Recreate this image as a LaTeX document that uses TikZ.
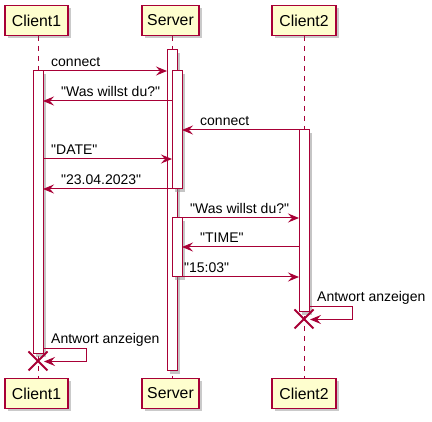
\documentclass[tikz,border=0pt]{standalone}
\usepackage{fontspec}
\setmainfont[Ligatures=TeXOff]{Liberation Sans}
\usetikzlibrary{arrows.meta,shadows}
\definecolor{plline}{RGB}{168,0,54}
\definecolor{plfill}{RGB}{254,254,206}
\begin{document}
\begin{tikzpicture}[x=1pt,y=-1pt,
  part/.style={draw=plline, fill=plfill, line width=1.2pt, minimum height=30pt, inner sep=0pt,
    font=\fontsize{15.8}{18}\selectfont,
    drop shadow={shadow xshift=3pt, shadow yshift=-3pt, opacity=.35, fill=black!60}},
  life/.style={draw=plline, line width=0.8pt, dash pattern=on 5pt off 5pt},
  actbar/.style={draw=plline, fill=white, line width=1pt},
  shd/.style={fill=black!45, opacity=.5},
  msg/.style={draw=plline, line width=1pt, -{Stealth[length=11pt,width=9pt,inset=4pt]}},
  lbl/.style={font=\fontsize{14}{16}\selectfont, inner sep=0pt},
  kill/.style={draw=plline, line width=1.8pt}
]
\useasboundingbox (0,0) rectangle (432,422);

% lifelines
\draw[life] (38,36) -- (38,378);
\draw[life] (172,36) -- (172,378);
\draw[life] (304,36) -- (304,378);

% participants
\node[part, minimum width=63pt] (c1top) at (36.5,20.5) {Client1};
\node[part, minimum width=57pt] (stop) at (170.5,20.5) {Server};
\node[part, minimum width=64pt] (c2top) at (304,20.5) {Client2};
\node[part, minimum width=63pt] (c1bot) at (36.5,393.5) {Client1};
\node[part, minimum width=57pt] (sbot) at (170.5,393.5) {Server};
\node[part, minimum width=64pt] (c2bot) at (304,393.5) {Client2};

% activation bars with shadows
\fill[shd] (170,53) rectangle (180,374);
\draw[actbar] (167,50) rectangle (177,371);
\fill[shd] (175,74) rectangle (185,192);
\draw[actbar] (172,71) rectangle (182,189);
\fill[shd] (175,221) rectangle (185,280);
\draw[actbar] (172,218) rectangle (182,277);
\fill[shd] (36,74) rectangle (46,357);
\draw[actbar] (33,71) rectangle (43,354);
\fill[shd] (302,133) rectangle (312,315);
\draw[actbar] (299,130) rectangle (309,312);

% messages
\draw[msg] (38,71) -- (167,71);
\node[lbl, anchor=base west] (m1) at (51,67) {connect};
\draw[msg] (172,101) -- (43,101);
\node[lbl, anchor=base west] (m2) at (61,96.5) {"Was willst du?"};
\draw[msg] (309,130) -- (182,130);
\node[lbl, anchor=base west] (m3) at (200,125.5) {connect};
\draw[msg] (43,159) -- (172,159);
\node[lbl, anchor=base west] (m4) at (51,154.5) {"DATE"};
\draw[msg] (172,189) -- (43,189);
\node[lbl, anchor=base west] (m5) at (61,184.5) {"23.04.2023"};
\draw[msg] (182,218) -- (299,218);
\node[lbl, anchor=base west] (m6) at (190,213.5) {"Was willst du?"};
\draw[msg] (299,247) -- (182,247);
\node[lbl, anchor=base west] (m7) at (200,242.5) {"TIME"};
\draw[msg] (182,277) -- (299,277);
\node[lbl, anchor=base west] (m8) at (184,272.5) {"15:03"};

% self messages
\draw[msg] (309,306.5) -- (352,306.5) -- (352,319.5) -- (310,319.5);
\node[lbl, anchor=base west] (m9) at (317,302) {Antwort anzeigen};
\draw[msg] (43,348.5) -- (86,348.5) -- (86,361.5) -- (44,361.5);
\node[lbl, anchor=base west] (m10) at (51,344) {Antwort anzeigen};

% destroy marks
\draw[kill] (294.5,309.5) -- (313.5,328.5) (294.5,328.5) -- (313.5,309.5);
\draw[kill] (28.5,351.5) -- (47.5,370.5) (28.5,370.5) -- (47.5,351.5);
\end{tikzpicture}
\end{document}
